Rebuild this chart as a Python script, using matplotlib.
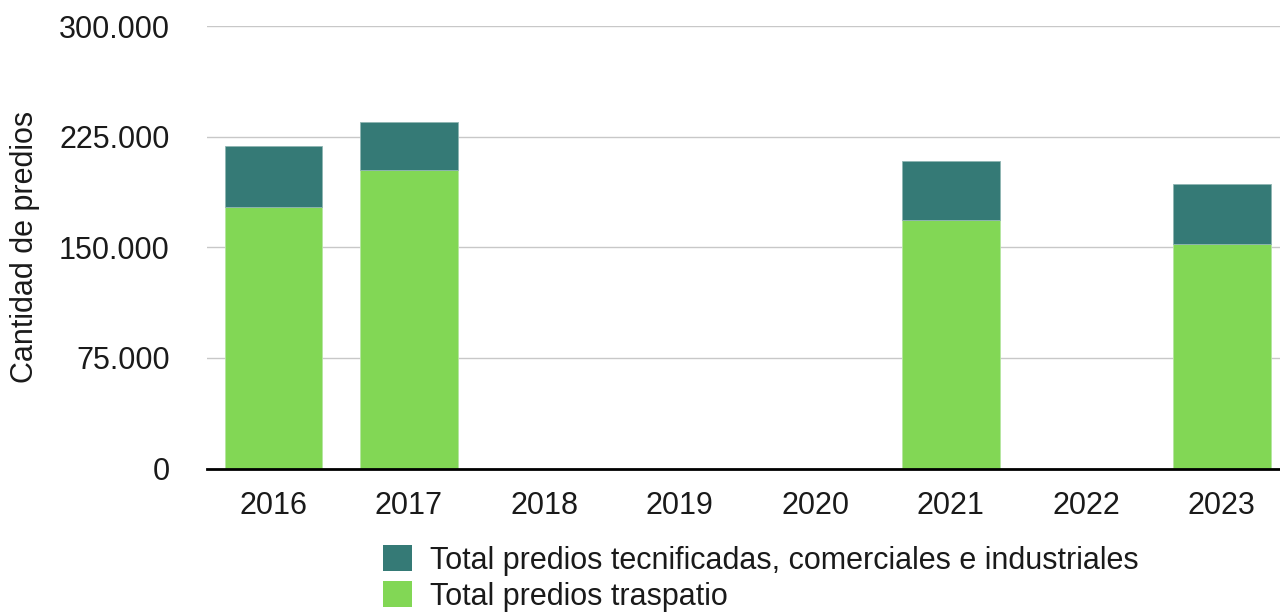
import matplotlib.pyplot as plt
from matplotlib.ticker import FuncFormatter
from matplotlib.patches import Patch

plt.rcParams['font.family'] = ['Liberation Sans', 'DejaVu Sans']

# Datos
anios = ['2016', '2017', '2018', '2019', '2020', '2021', '2022', '2023']
traspatio = [177200, 202100, 0, 0, 0, 168800, 0, 152300]
tecnificadas = [41400, 33100, 0, 0, 0, 39600, 0, 40800]

color_trasp = '#82D755'
color_tec = '#357A76'

fig = plt.figure(figsize=(12.8, 6.13), dpi=100)
ax = fig.add_axes([207 / 1280, 1 - 468.5 / 613, 1 - 207 / 1280, (468.5 - 26) / 613])

x = list(range(len(anios)))
ax.bar(x, traspatio, width=0.72, color=color_trasp, edgecolor='#b5e6a0', linewidth=0.6, zorder=3)
ax.bar(x, tecnificadas, bottom=traspatio, width=0.72, color=color_tec,
       edgecolor='#8fb5b2', linewidth=0.6, zorder=3)

ax.set_ylim(0, 300000)
ax.set_xlim(-0.49, 7.43)
ax.set_yticks([0, 75000, 150000, 225000, 300000])
ax.yaxis.set_major_formatter(FuncFormatter(lambda v, p: f'{int(v):,}'.replace(',', '.')))
ax.set_xticks(x)
ax.set_xticklabels(anios)

ax.grid(axis='y', color='#c8c8c8', linewidth=1.0, zorder=0)
for s in ['top', 'right', 'left']:
    ax.spines[s].set_visible(False)
ax.spines['bottom'].set_color('black')
ax.spines['bottom'].set_linewidth(2)
ax.spines['bottom'].set_zorder(4)
ax.tick_params(axis='both', length=0, labelsize=22, colors='#1a1a1a')
ax.tick_params(axis='y', pad=27)
ax.tick_params(axis='x', pad=16)

ax.set_ylabel('Cantidad de predios', fontsize=22, color='#1a1a1a')
ax.yaxis.set_label_coords(-167 / 1073, 0.5)

handles = [Patch(facecolor=color_tec, edgecolor='none'),
           Patch(facecolor=color_trasp, edgecolor='none')]
labels = ['Total predios tecnificadas, comerciales e industriales', 'Total predios traspatio']
fig.legend(handles, labels, loc='upper left', bbox_to_anchor=(383 / 1280, 1 - 545 / 613),
           frameon=False, fontsize=22, handlelength=0.95, handleheight=0.95,
           handletextpad=0.6, labelspacing=0.17, borderaxespad=0, borderpad=0,
           labelcolor='#1a1a1a')

fig.savefig('out.png', dpi=100)
